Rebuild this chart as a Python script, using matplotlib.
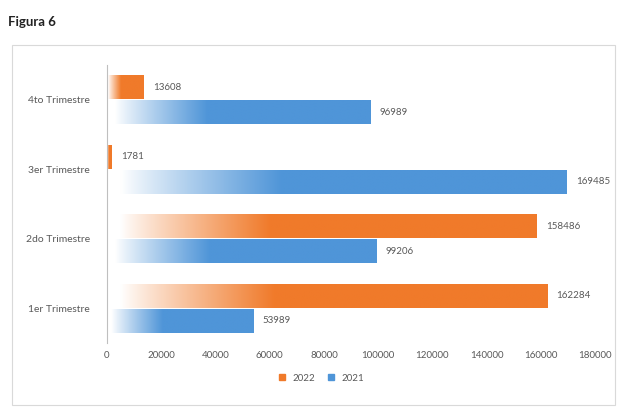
import numpy as np
import matplotlib.pyplot as plt
from matplotlib.colors import to_rgb
from matplotlib.patches import Rectangle
from matplotlib.lines import Line2D

plt.rcParams['font.family'] = ['Lato', 'DejaVu Sans']

# data
categories = ['1er Trimestre', '2do Trimestre', '3er Trimestre', '4to Trimestre']
values_2022 = [162284, 158486, 1781, 13608]
values_2021 = [53989, 99206, 169485, 96989]
series_names = ['2022', '2021']
xticks = [0, 20000, 40000, 60000, 80000, 100000, 120000, 140000, 160000, 180000]

orange = '#F07A2A'
blue = '#4F95D8'
txt = '#595959'

fig = plt.figure(figsize=(6.18, 4.09), dpi=100)
ax = fig.add_axes([0.173, 0.161, 0.79, 0.68])

# chart frame and title
fig.patches.append(Rectangle((0.019, 0.01), 0.976, 0.88, transform=fig.transFigure,
                             fill=False, edgecolor='#d9d9d9', linewidth=0.8))
fig.text(0.013, 0.946, 'Figura 6', fontsize=9.5, fontweight='bold', color='#222222',
         va='center')


def grad_bar(ax, y, width, h, color):
    # white -> color gradient along the bar
    if width <= 0:
        return
    n = 256
    t = np.linspace(0, 1, n)
    f = np.clip((t - 0.03) / 0.35, 0, 1) ** 0.9
    c = np.array(to_rgb(color))
    img = (1 - f)[:, None] * np.ones(3) + f[:, None] * c
    img = img[None, :, :]
    ax.imshow(img, extent=[0, width, y - h / 2, y + h / 2], aspect='auto',
              interpolation='bilinear', zorder=2)


h = 0.345
off = 0.18
y = np.arange(len(categories))
for i in range(len(categories)):
    grad_bar(ax, y[i] + off, values_2022[i], h, orange)
    grad_bar(ax, y[i] - off, values_2021[i], h, blue)
    ax.text(values_2022[i] + 3500, y[i] + off, str(values_2022[i]), va='center',
            ha='left', fontsize=7, color=txt)
    ax.text(values_2021[i] + 3500, y[i] - off, str(values_2021[i]), va='center',
            ha='left', fontsize=7, color=txt)

ax.set_xlim(0, 180000)
ax.set_ylim(-0.5, 3.5)
ax.set_xticks(xticks)
ax.set_xticklabels([str(v) for v in xticks])
ax.set_yticks(y)
ax.set_yticklabels(categories, fontsize=7.5)
ax.tick_params(axis='both', length=0, labelsize=7, colors=txt)
ax.tick_params(axis='y', pad=12, labelsize=7.5)
ax.tick_params(axis='x', pad=6)
for s in ['top', 'right', 'bottom']:
    ax.spines[s].set_visible(False)
ax.spines['left'].set_color('#bfbfbf')
ax.spines['left'].set_linewidth(0.8)
ax.set_facecolor('none')

handles = [Line2D([0], [0], marker='s', linestyle='', color=orange, markersize=4),
           Line2D([0], [0], marker='s', linestyle='', color=blue, markersize=4)]
fig.legend(handles, series_names, loc='center', bbox_to_anchor=(0.515, 0.075), ncol=2,
           frameon=False, fontsize=7, labelcolor=txt, handletextpad=0.1, columnspacing=0.6)

fig.savefig('out.png', dpi=100)
